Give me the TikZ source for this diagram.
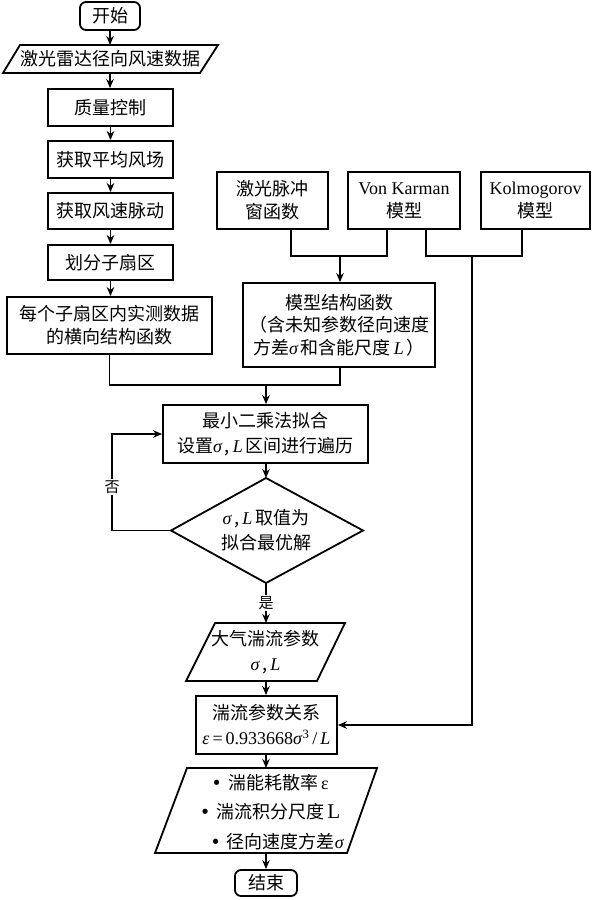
\documentclass[tikz,border=0pt]{standalone}
\usepackage{fontspec}
\setmainfont{Noto Sans CJK SC}
\newfontfamily\tms{Liberation Serif}
\newfontfamily\dv{DejaVu Sans}
\newcommand{\mi}[1]{{\tms\itshape #1}}
\newcommand{\mr}[1]{{\tms #1}}
\newcommand{\bul}{{\dv •}\hspace{6pt}}
\usetikzlibrary{arrows.meta}
\begin{document}
\begin{tikzpicture}[x=1pt,y=-1pt,
  font=\fontsize{18}{23}\selectfont,
  box/.style={draw,line width=1.8pt,rectangle,inner sep=0pt,align=center},
  term/.style={box,rounded corners=6pt},
  shapeline/.style={draw,line width=1.8pt,line join=miter},
  txt/.style={inner sep=0pt,align=center},
  conn/.style={line width=1.4pt},
  arr/.style={conn,-{Stealth[length=9pt,width=7.5pt]}},
  lbl/.style={fill=white,inner sep=1.5pt,font=\fontsize{15}{18}\selectfont}]
\useasboundingbox (0,0) rectangle (593,900);

% ---- left column
\node[term,minimum width=60pt,minimum height=28pt] (start) at (110,16) {开始};

\coordinate (io1N) at (110,45);
\coordinate (io1S) at (110,73);
\draw[shapeline] (20,45) -- (218,45) -- (200,73) -- (3,73) -- cycle;
\node[txt] (data) at (110.5,59) {激光雷达径向风速数据};

\node[box,minimum width=125pt,minimum height=37pt] (qc) at (110.5,107.5) {质量控制};
\node[box,minimum width=125pt,minimum height=37pt] (mean) at (110.5,159.5) {获取平均风场};
\node[box,minimum width=125pt,minimum height=36pt] (fluc) at (110.5,211) {获取风速脉动};
\node[box,minimum width=125pt,minimum height=35pt] (sect) at (110.5,262.5) {划分子扇区};
\node[box,minimum width=205pt,minimum height=57pt] (sub) at (109.5,325.5) {每个子扇区内实测数据\\的横向结构函数};

% ---- right top
\node[box,minimum width=111pt,minimum height=57pt] (pulse) at (272.5,200.5) {激光脉冲\\窗函数};
\node[box,minimum width=112pt,minimum height=57pt] (vk) at (404,200.5) {\mr{Von Karman}\\模型};
\node[box,minimum width=109pt,minimum height=57pt] (kol) at (535.5,200.5) {\mr{Kolmogorov}\\模型};
\node[box,minimum width=192pt,minimum height=84pt,font=\fontsize{18}{22.5}\selectfont] (model) at (339,325)
  {模型结构函数\\（含未知参数径向速度\\方差\mi{σ}\,和含能尺度\,\mi{L}\,）};

% ---- fitting
\node[box,minimum width=205pt,minimum height=58pt,font=\fontsize{18}{25}\selectfont] (lsq) at (265.5,434)
  {最小二乘法拟合\\设置\mi{σ}\,,\,\mi{L}\,区间进行遍历};

\coordinate (dT) at (266,478);
\coordinate (dR) at (363,530.5);
\coordinate (dB) at (266,583);
\coordinate (dL) at (171,530.5);
\draw[shapeline] (dT) -- (dR) -- (dB) -- (dL) -- cycle;
\node[txt,font=\fontsize{18}{25}\selectfont] (dec) at (266,530.5) {\mi{σ}\,,\,\mi{L}\,取值为\\拟合最优解};

% ---- outputs
\coordinate (io2N) at (266,623);
\coordinate (io2S) at (266,681);
\draw[shapeline] (215,623) -- (345,623) -- (317,681) -- (186,681) -- cycle;
\node[txt,font=\fontsize{18}{25}\selectfont] (atm) at (265.5,652) {大气湍流参数\\\mi{σ}\,,\,\mi{L}};

\node[box,minimum width=141pt,minimum height=58pt,font=\fontsize{18}{25}\selectfont] (rel) at (266.5,725)
  {湍流参数关系\\{\tms\textit{ε}\,=\,0.933668\textit{σ}\textsuperscript{3}\,/\,\textit{L}}};

\coordinate (io3N) at (266,768);
\coordinate (io3S) at (266,853);
\draw[shapeline] (187,768) -- (377,768) -- (347,853) -- (155,853) -- cycle;
\node[txt,font=\fontsize{18}{29.5}\selectfont] (res) at (270,812)
  {\bul 湍能耗散率\,\mr{ε}\\\bul 湍流积分尺度\,{\tms\fontsize{21}{29.5}\selectfont L}\\\hspace{14pt}\bul 径向速度方差\mi{σ}};

\node[term,minimum width=62pt,minimum height=26pt] (end) at (266,883) {结束};

% ---- connectors
\draw[arr] (start.south) -- (io1N);
\draw[arr] (io1S) -- (io1S |- qc.north);
\draw[arr] (qc.south) -- (mean.north);
\draw[arr] (mean.south) -- (fluc.north);
\draw[arr] (fluc.south) -- (sect.north);
\draw[arr] (sect.south) -- (sect.south |- sub.north);

\coordinate (j1) at (340,255);
\coordinate (j2) at (472,255);
\coordinate (j3) at (266,384);
\coordinate (loop) at (112,530.5);

\draw[conn] ([xshift=18.5pt]pulse.south) -- ++(0,26) -| ([xshift=-17pt]vk.south);
\draw[arr] (j1) -- (j1 |- model.north);
\draw[conn] ([xshift=22pt]vk.south) -- ++(0,26) -| ([xshift=-13.5pt]kol.south);
\draw[arr] (j2) |- (rel.east);

\draw[conn] (sub.south) -- ++(0,30) -| ([xshift=1pt]model.south);
\draw[arr] (j3) -- (j3 |- lsq.north);
\draw[arr] (lsq.south -| dT) -- (dT);
\draw[arr] (dL) -- (loop) |- (lsq.west);
\node[lbl] (no) at (112,487) {否};
\draw[arr] (dB) -- (io2N);
\node[lbl] (yes) at (266,603) {是};
\draw[arr] (io2S) -- (io2S |- rel.north);
\draw[arr] (rel.south -| io3N) -- (io3N);
\draw[arr] (io3S) -- (end.north);
\end{tikzpicture}
\end{document}
